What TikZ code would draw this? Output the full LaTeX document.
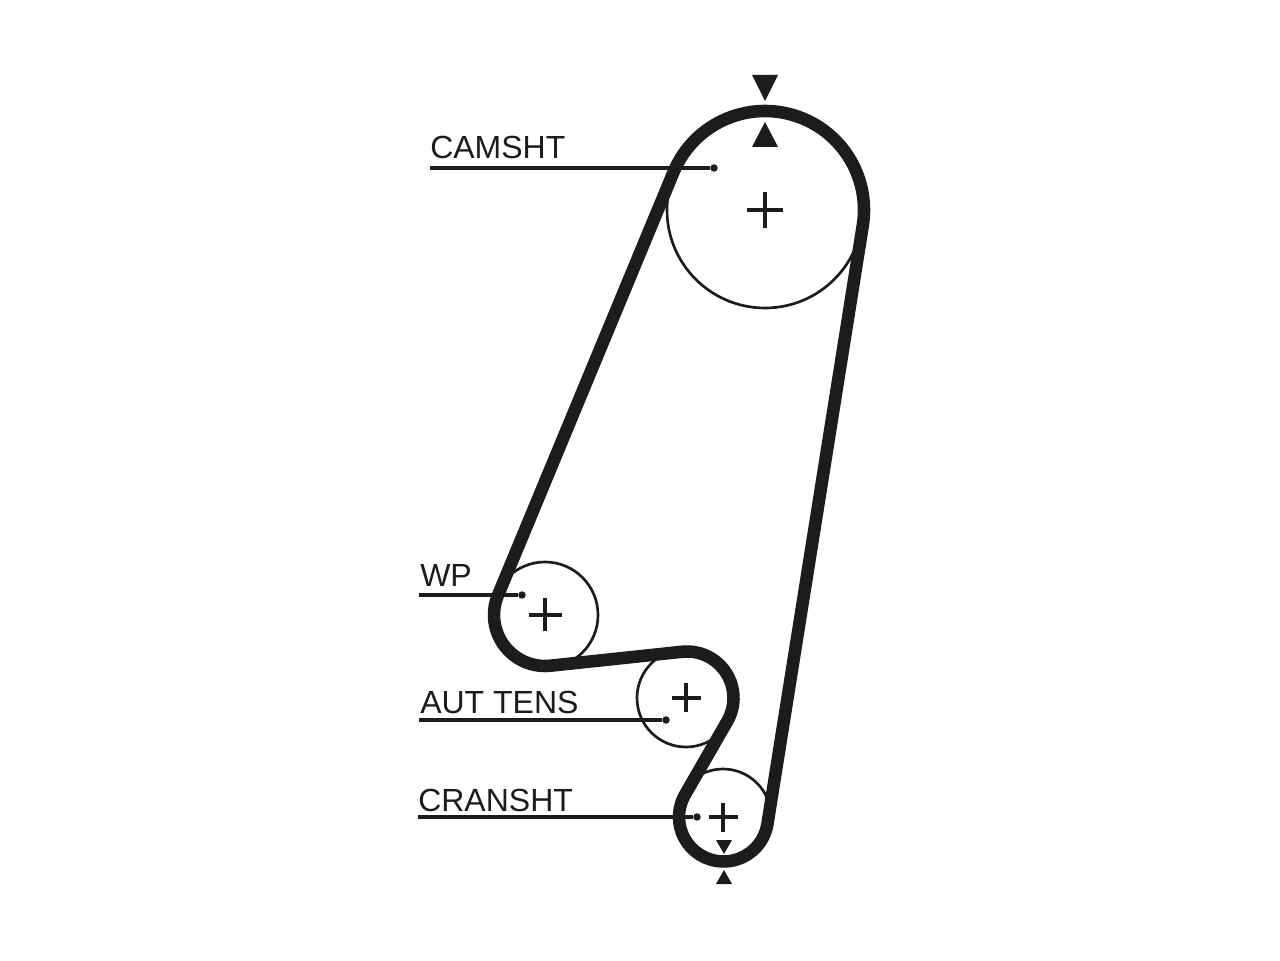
\documentclass[tikz,border=0pt]{standalone}
\usepackage{fontspec}
\setmainfont{Liberation Sans}
\usetikzlibrary{calc}
\definecolor{ink}{HTML}{1C1C1C}
\tikzset{
  pulley/.style={circle,draw=ink,line width=2pt,inner sep=0pt,outer sep=0pt,minimum size=#1*1.5pt},
  belt/.style={draw=ink,line width=9.4pt,line join=round},
  leader/.style={draw=ink,line width=2.5pt},
  tag/.style={anchor=base west,inner sep=0pt,text=ink,font=\fontsize{24pt}{26pt}\selectfont},
  crossmark/.style={draw=ink,line width=2.4pt},
  tri/.style={fill=ink,draw=none},
  leaddot/.style={circle,fill=ink,inner sep=0pt,minimum size=5.6pt}
}
\begin{document}
\begin{tikzpicture}[x=0.75pt,y=0.75pt]
\useasboundingbox (0,0) rectangle (1280,960);
\fill[white] (0,0) rectangle (1280,960);
% pulleys
\node[pulley=98] (cam) at (765,750) {};
\node[pulley=53] (wp) at (545,345) {};
\node[pulley=49] (tens) at (686,262) {};
\node[pulley=48] (crank) at (723,143) {};
\coordinate (tensrun) at ($(tens)+(1,0)$);
\coordinate (crankrun) at ($(crank)+(0.5,0)$);
% belt
\draw[belt]
  ($(cam)+(157.47:99)$) arc[start angle=157.47,end angle=-9.05,radius=99]
  -- ($(crankrun)+(-9.05:44.5)$) arc[start angle=-9.05,end angle=-209.94,radius=44.5]
  -- ($(tensrun)+(-29.94:46.5)$) arc[start angle=-29.94,end angle=96.1,radius=46.5]
  -- ($(wp)+(-83.9:51)$) arc[start angle=-83.9,end angle=-202.53,radius=51]
  -- cycle;
% centre marks
\draw[crossmark] ($(cam)+(-18,0)$) -- ($(cam)+(18,0)$) ($(cam)+(0,-18)$) -- ($(cam)+(0,18)$);
\draw[crossmark] ($(wp)+(-16.5,0)$) -- ($(wp)+(16.5,0)$) ($(wp)+(0,-16.5)$) -- ($(wp)+(0,16.5)$);
\draw[crossmark] ($(tens)+(-14.5,0)$) -- ($(tens)+(14.5,0)$) ($(tens)+(0,-14.5)$) -- ($(tens)+(0,14.5)$);
\draw[crossmark] ($(crank)+(-14.5,0)$) -- ($(crank)+(14.5,0)$) ($(crank)+(0,-14.5)$) -- ($(crank)+(0,14.5)$);
% timing marks
\fill[tri] (752,885) -- (778,885) -- (765,859) -- cycle;
\fill[tri] (752,813) -- (778,813) -- (765,838) -- cycle;
\fill[tri] (716,120) -- (732,120) -- (724,106) -- cycle;
\fill[tri] (716,76) -- (732,76) -- (724,90) -- cycle;
% labels and leaders
\node[tag] (camlabel) at (430,801) {CAMSHT};
\node[tag] (wplabel) at (420,373) {WP};
\node[tag] (tenslabel) at (420,246.5) {AUT TENS};
\node[tag] (cranklabel) at (418,149) {CRANSHT};
\node[leaddot] (camdot) at (714,792) {};
\node[leaddot] (wpdot) at (522,365) {};
\node[leaddot] (tensdot) at (666,240) {};
\node[leaddot] (crankdot) at (697,143) {};
\coordinate (camstart) at (430,792);
\coordinate (wpstart) at (419,365);
\coordinate (tensstart) at (419,240);
\coordinate (crankstart) at (418,143);
\draw[leader] (camstart) -- (camdot);
\draw[leader] (wpstart) -- (wpdot);
\draw[leader] (tensstart) -- (tensdot);
\draw[leader] (crankstart) -- (crankdot);
\end{tikzpicture}
\end{document}
